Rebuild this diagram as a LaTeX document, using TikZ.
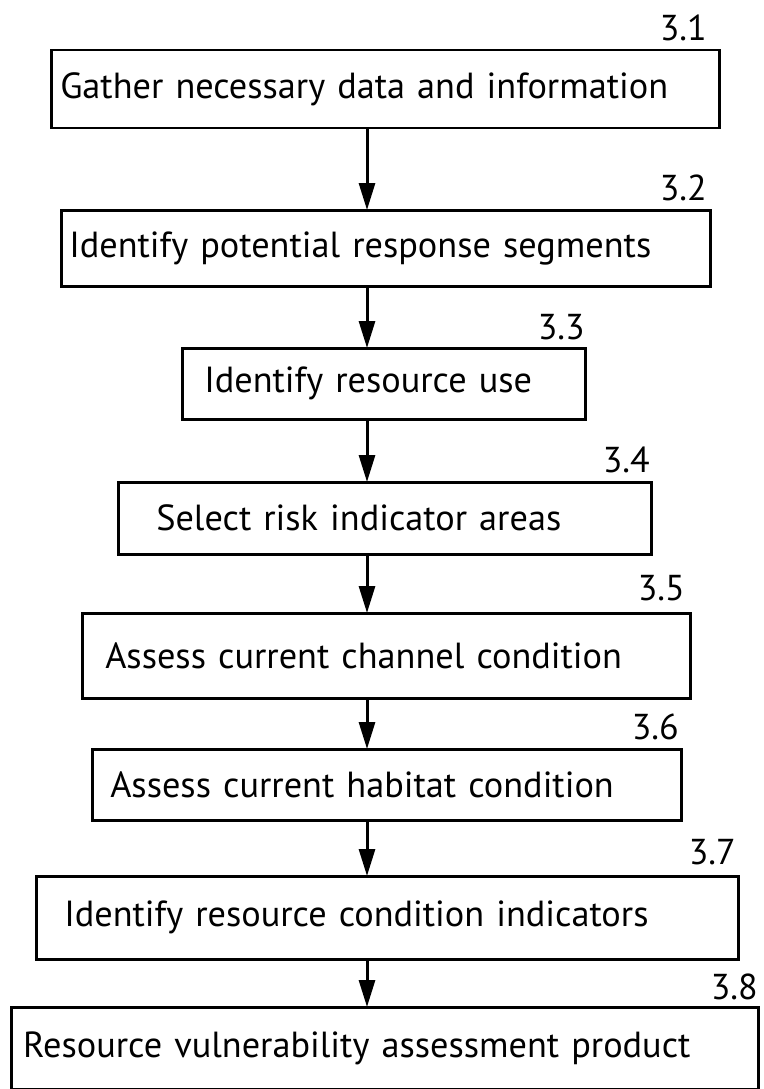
\documentclass[tikz,border=0pt]{standalone}
\usepackage{fontspec}
\setmainfont{PT Sans}
\usetikzlibrary{arrows.meta}
\begin{document}
\begin{tikzpicture}[x=1pt,y=-1pt,
  stepbox/.style={draw=black, line width=2.5pt, anchor=north west, align=left,
    font=\fontsize{36.3}{40}\selectfont, inner ysep=0pt},
  steplab/.style={anchor=east, inner sep=0pt, font=\fontsize{36}{40}\selectfont},
  arr/.style={line width=3pt, -{Triangle[length=27pt,width=16pt]}, shorten >=-1pt}]
\useasboundingbox (0,0) rectangle (763,1089);
% boxes: x1,y1, width, height, left pad
\node[stepbox, minimum width=668pt, minimum height=78pt, text width=650pt, inner xsep=9pt] (b1) at (50,49) {Gather necessary data and information};
\node[stepbox, minimum width=649pt, minimum height=76pt, text width=633pt, inner xsep=8pt] (b2) at (60,209) {Identify potential response segments};
\node[stepbox, minimum width=403pt, minimum height=71pt, text width=359pt, inner xsep=22pt] (b3) at (181,347) {Identify resource use};
\node[stepbox, minimum width=533pt, minimum height=72pt, text width=457pt, inner xsep=38pt] (b4) at (117,481) {Select risk indicator areas};
\node[stepbox, minimum width=608pt, minimum height=85pt, text width=562pt, inner xsep=23pt] (b5) at (81,612) {Assess current channel condition};
\node[stepbox, minimum width=589pt, minimum height=71pt, text width=553pt, inner xsep=18pt] (b6) at (91,748) {Assess current habitat condition};
\node[stepbox, minimum width=702pt, minimum height=83pt, text width=646pt, inner xsep=28pt] (b7) at (35,875) {Identify resource condition indicators};
\node[stepbox, minimum width=747pt, minimum height=82pt, text width=723pt, inner xsep=12pt] (b8) at (10,1006) {Resource vulnerability assessment product};
% labels
\node[steplab] (l1) at (707,28) {3.1};
\node[steplab] (l2) at (707,188) {3.2};
\node[steplab] (l3) at (585,327) {3.3};
\node[steplab] (l4) at (650,460) {3.4};
\node[steplab] (l5) at (685,588) {3.5};
\node[steplab] (l6) at (679,727) {3.6};
\node[steplab] (l7) at (736,852) {3.7};
\node[steplab] (l8) at (758,987) {3.8};
% arrows
\coordinate (ax) at (367,0);
\draw[arr] (b1.south -| ax) -- (b2.north -| ax);
\draw[arr] (b2.south -| ax) -- (b3.north -| ax);
\draw[arr] (b3.south -| ax) -- (b4.north -| ax);
\draw[arr] (b4.south -| ax) -- (b5.north -| ax);
\draw[arr] (b5.south -| ax) -- (b6.north -| ax);
\draw[arr] (b6.south -| ax) -- (b7.north -| ax);
\draw[arr] (b7.south -| ax) -- (b8.north -| ax);
\end{tikzpicture}
\end{document}
